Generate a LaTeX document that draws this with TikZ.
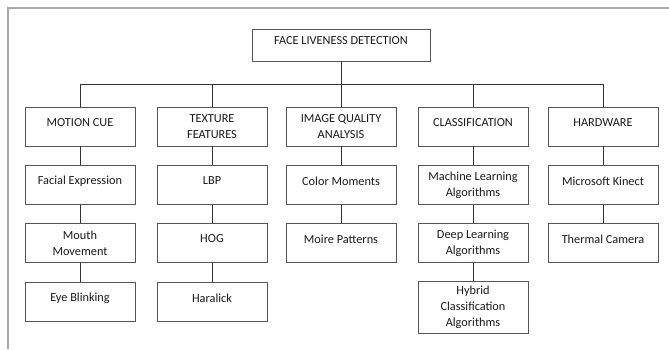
\documentclass[tikz,border=0pt]{standalone}
\usepackage{fontspec}
\setmainfont{Carlito}
\definecolor{boxc}{HTML}{555555}
\definecolor{framec}{HTML}{A8A8A8}
\newcommand{\up}[1]{\raisebox{4pt}[\height][\depth]{#1}}
\tikzset{
  box/.style={draw=boxc, line width=0.8pt, minimum width=110pt, minimum height=39pt,
    inner sep=1pt, align=center, font=\fontsize{12.3}{16}\selectfont, text=black!90},
  link/.style={draw=black!80, line width=0.9pt}
}
\begin{document}
\begin{tikzpicture}[x=1pt,y=-1pt]
\useasboundingbox (0,0) rectangle (669,349);
\draw[framec, line width=1.6pt] (8,349) -- (8,8) -- (669,8);
% root
\node[box, minimum width=178pt, minimum height=32pt] (root) at (341,45) {\up{FACE LIVENESS DETECTION}};
% level 1
\node[box] (mc) at (80,126.5) {\up{MOTION CUE}};
\node[box] (tf) at (212,126.5) {TEXTURE\\FEATURES};
\node[box] (iq) at (341,126.5) {IMAGE QUALITY\\ANALYSIS};
\node[box] (cl) at (473,126.5) {\up{CLASSIFICATION}};
\node[box] (hw) at (603,126.5) {\up{HARDWARE}};
% level 2
\node[box] (fe) at (80,185) {\up{Facial Expression}};
\node[box] (lbp) at (212,185) {\up{LBP}};
\node[box] (cm) at (341,185) {\up{Color Moments}};
\node[box] (ml) at (473,185) {Machine Learning\\Algorithms};
\node[box] (mk) at (603,185) {\up{Microsoft Kinect}};
% level 3
\node[box] (mm) at (80,243) {Mouth\\Movement};
\node[box] (hog) at (212,243) {\up{HOG}};
\node[box] (mp) at (341,243) {\up{Moire Patterns}};
\node[box] (dl) at (473,243) {Deep Learning\\Algorithms};
\node[box] (tc) at (603,243) {\up{Thermal Camera}};
% level 4
\node[box] (eb) at (80,302) {\up{Eye Blinking}};
\node[box] (har) at (212,302) {\up{Haralick}};
\node[box, minimum height=52pt] (hy) at (473,307) {\raisebox{-3pt}[0pt][0pt]{\begin{tabular}{@{}c@{}}Hybrid\\Classification\\Algorithms\end{tabular}}};
% connectors
\draw[link] (root) -- (iq);
\coordinate (busl) at (80,84);
\draw[link] (mc.north) -- (busl) -- (busl -| hw.north) -- (hw.north);
\draw[link] (tf.north) -- (tf.north |- busl);
\draw[link] (cl.north) -- (cl.north |- busl);
\draw[link] (mc) -- (fe); \draw[link] (fe) -- (mm); \draw[link] (mm) -- (eb);
\draw[link] (tf) -- (lbp); \draw[link] (lbp) -- (hog); \draw[link] (hog) -- (har);
\draw[link] (iq) -- (cm); \draw[link] (cm) -- (mp);
\draw[link] (cl) -- (ml); \draw[link] (ml) -- (dl); \draw[link] (dl) -- (hy);
\draw[link] (hw) -- (mk); \draw[link] (mk) -- (tc);
\end{tikzpicture}
\end{document}
